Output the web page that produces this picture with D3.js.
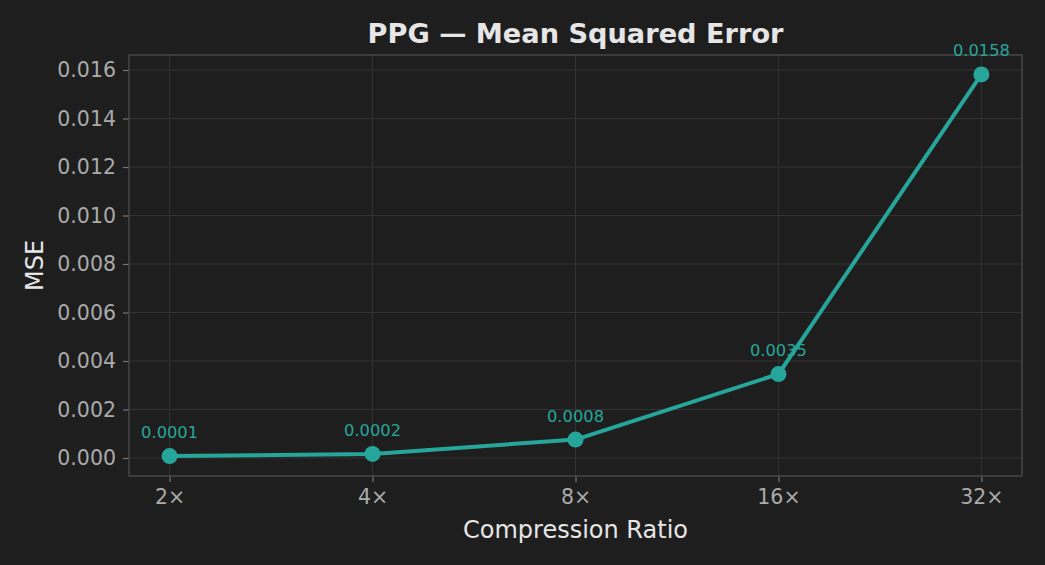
<!DOCTYPE html>
<html>
<head>
<meta charset="utf-8">
<script src="https://cdn.jsdelivr.net/npm/d3@7"></script>
<style>
  html, body { margin: 0; padding: 0; background: #1e1e1e; }
  svg { display: block; font-family: "DejaVu Sans", sans-serif; }
</style>
</head>
<body>
<script>
(function(){

	// chart data
	var ratios = ["2×", "4×", "8×", "16×", "32×"];
	var mseValues = [0.000078, 0.00017, 0.00076, 0.00346, 0.01582];
	var mseLabels = ["0.0001", "0.0002", "0.0008", "0.0035", "0.0158"];
	var yTicks = [0, 0.002, 0.004, 0.006, 0.008, 0.010, 0.012, 0.014, 0.016];

	var width = 1045, height = 565;
	var margin = {top: 55, right: 23, bottom: 89, left: 129};
	var teal = "#26a69a";

	var svg = d3.select("body")
		.append("svg")
		.attr("width", width)
		.attr("height", height);

	svg.append("rect")
		.attr("width", width)
		.attr("height", height)
		.attr("fill", "#1e1e1e");

	var plotW = width - margin.left - margin.right,
		plotH = height - margin.top - margin.bottom;

	var g = svg.append("g")
		.attr("transform", "translate(" + margin.left + "," + margin.top + ")");

	// x is an index scale with matplotlib-like padding
	var x = d3.scaleLinear()
		.domain([-0.2, ratios.length - 1 + 0.2])
		.range([0, plotW]);

	var y = d3.scaleLinear()
		.domain([-0.000742, 0.016619])
		.range([plotH, 0]);

	// grid lines
	g.append("g")
		.selectAll("line.hgrid")
		.data(yTicks)
		.enter()
		.append("line")
		.attr("class", "hgrid")
		.attr("x1", 0).attr("x2", plotW)
		.attr("y1", function(d){ return y(d); })
		.attr("y2", function(d){ return y(d); })
		.attr("stroke", "#333333")
		.attr("stroke-width", 1);

	g.append("g")
		.selectAll("line.vgrid")
		.data(ratios)
		.enter()
		.append("line")
		.attr("class", "vgrid")
		.attr("y1", 0).attr("y2", plotH)
		.attr("x1", function(d, i){ return x(i); })
		.attr("x2", function(d, i){ return x(i); })
		.attr("stroke", "#333333")
		.attr("stroke-width", 1);

	// axes
	var xAxis = g.append("g")
		.attr("transform", "translate(0," + plotH + ")")
		.call(d3.axisBottom(x)
			.tickValues(d3.range(ratios.length))
			.tickFormat(function(i){ return ratios[i]; })
			.tickSize(6)
			.tickPadding(7));

	var yAxis = g.append("g")
		.call(d3.axisLeft(y)
			.tickValues(yTicks)
			.tickFormat(d3.format(".3f"))
			.tickSize(6)
			.tickPadding(7));

	[xAxis, yAxis].forEach(function(ax){
		ax.select(".domain").remove();
		ax.selectAll(".tick line").attr("stroke", "#777777").attr("stroke-width", 1.2);
		ax.selectAll(".tick text")
			.attr("fill", "#aaaaaa")
			.style("font-size", "20.5px")
			.style("font-family", "DejaVu Sans");
	});

	// frame
	g.append("rect")
		.attr("width", plotW)
		.attr("height", plotH)
		.attr("fill", "none")
		.attr("stroke", "#474747")
		.attr("stroke-width", 1.5);

	// value labels go under the line
	g.append("g")
		.selectAll("text.val")
		.data(mseValues)
		.enter()
		.append("text")
		.attr("class", "val")
		.attr("x", function(d, i){ return x(i); })
		.attr("y", function(d){ return y(d) - 18; })
		.attr("text-anchor", "middle")
		.attr("fill", teal)
		.style("font-size", "16.3px")
		.text(function(d, i){ return mseLabels[i]; });

	var line = d3.line()
		.x(function(d, i){ return x(i); })
		.y(function(d){ return y(d); });

	g.append("path")
		.datum(mseValues)
		.attr("d", line)
		.attr("fill", "none")
		.attr("stroke", teal)
		.attr("stroke-width", 4)
		.attr("stroke-linejoin", "round");

	g.append("g")
		.selectAll("circle")
		.data(mseValues)
		.enter()
		.append("circle")
		.attr("cx", function(d, i){ return x(i); })
		.attr("cy", function(d){ return y(d); })
		.attr("r", 8)
		.attr("fill", teal);

	// titles
	svg.append("text")
		.attr("x", margin.left + plotW / 2)
		.attr("y", 43)
		.attr("text-anchor", "middle")
		.attr("fill", "#e6e6e6")
		.style("font-size", "27.2px")
		.style("font-weight", "bold")
		.text("PPG — Mean Squared Error");

	svg.append("text")
		.attr("x", margin.left + plotW / 2)
		.attr("y", 538)
		.attr("text-anchor", "middle")
		.attr("fill", "#e6e6e6")
		.style("font-size", "24px")
		.text("Compression Ratio");

	svg.append("text")
		.attr("transform", "translate(43," + (margin.top + plotH / 2) + ") rotate(-90)")
		.attr("text-anchor", "middle")
		.attr("fill", "#e6e6e6")
		.style("font-size", "24px")
		.text("MSE");

})();
</script>
</body>
</html>
